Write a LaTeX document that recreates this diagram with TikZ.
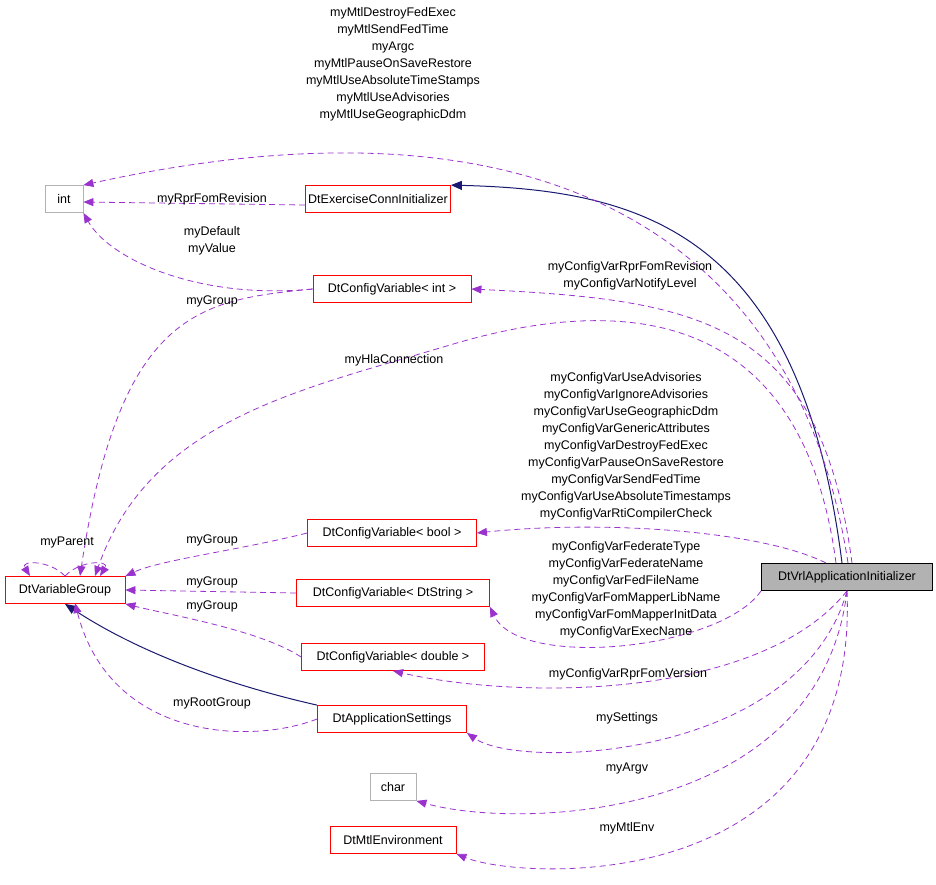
\documentclass[tikz,border=0pt]{standalone}
\usepackage{fontspec}
\setmainfont{Liberation Sans}
\usetikzlibrary{arrows.meta}
\definecolor{pur}{HTML}{9A32CD}
\definecolor{nav}{HTML}{191970}
\begin{document}
\begin{tikzpicture}[x=1pt,y=-1pt,
 font=\fontsize{12.5}{17}\selectfont,
 box/.style={draw=red,fill=white,inner sep=0pt,minimum height=27pt,line width=0.8pt},
 gbox/.style={draw=black!30,fill=white,inner sep=0pt,minimum height=27pt,line width=0.8pt},
 dep/.style={pur,dash pattern=on 6pt off 4pt,line width=0.8pt,-{Triangle[length=10pt,width=8pt]}},
 inh/.style={nav,line width=1pt,-{Triangle[length=11pt,width=9pt]}},
 lab/.style={align=center,inner sep=0pt}]
\useasboundingbox (0,0) rectangle (936,884);
\node[gbox,minimum width=38pt] (int) at (64,199) {int};
\node[box,minimum width=145pt] (exc) at (378,199) {DtExerciseConnInitializer};
\node[box,minimum width=158pt] (cvi) at (392,289) {DtConfigVariable< int >};
\node[box,minimum width=120pt] (vg) at (65,590) {DtVariableGroup};
\node[box,minimum width=169pt] (cvb) at (392,533) {DtConfigVariable< bool >};
\node[box,minimum width=193pt] (cvs) at (393,593) {DtConfigVariable< DtString >};
\node[box,minimum width=183pt] (cvd) at (393,657) {DtConfigVariable< double >};
\node[box,minimum width=149pt] (app) at (392,719) {DtApplicationSettings};
\node[gbox,minimum width=46pt] (chr) at (393,787) {char};
\node[box,minimum width=126pt] (mtl) at (393,840) {DtMtlEnvironment};
\node[draw=black,fill=black!30,inner sep=0pt,minimum height=27pt,minimum width=171pt,line width=0.8pt] (vrl) at (847,577) {DtVrlApplicationInitializer};
\coordinate (vt1) at (842,563);
\coordinate (vt2) at (836,563);
\coordinate (vt3) at (848,563);
\coordinate (vt4) at (826,563);
\coordinate (vt5) at (852,563);
% inheritance
\draw[inh] (vt1) .. controls (800,230) and (640,190) .. (exc.north east);
\draw[inh] (app.north west) .. controls (250,690) and (150,660) .. (vg.south);
% dependencies
\draw[dep] (vt3) .. controls (800,250) and (560,80) .. (int.north east);
\node[lab] (l1) at (393,64) {myMtlDestroyFedExec\\myMtlSendFedTime\\myArgc\\myMtlPauseOnSaveRestore\\myMtlUseAbsoluteTimeStamps\\myMtlUseAdvisories\\myMtlUseGeographicDdm};
\draw[dep] ([yshift=-6pt]exc.west) -- ([yshift=-3pt]int.east);
\node[lab] (l2) at (212,199) {myRprFomRevision};
\draw[dep] (cvi.west) .. controls (200,300) and (110,260) .. (int.south east);
\node[lab] (l3) at (212,241) {myDefault\\myValue};
\draw[dep] (cvi.west) .. controls (200,300) and (120,310) .. (80,576);
\node[lab] (l4) at (212,301) {myGroup};
\draw[dep] (vt2) .. controls (800,290) and (600,300) .. (450,345) .. controls (300,390) and (150,420) .. (95,576);
\node[lab] (l5) at (394,360) {myHlaConnection};
\draw[dep] (vt5) .. controls (820,320) and (700,300) .. (cvi.east);
\node[lab] (l6) at (630,276) {myConfigVarRprFomRevision\\myConfigVarNotifyLevel};
\draw[dep] (vt4) .. controls (760,530) and (600,520) .. (cvb.east);
\node[lab] (l7) at (626,446) {myConfigVarUseAdvisories\\myConfigVarIgnoreAdvisories\\myConfigVarUseGeographicDdm\\myConfigVarGenericAttributes\\myConfigVarDestroyFedExec\\myConfigVarPauseOnSaveRestore\\myConfigVarSendFedTime\\myConfigVarUseAbsoluteTimestamps\\myConfigVarRtiCompilerCheck};
\draw[dep] (cvb.west) .. controls (240,550) and (160,560) .. (vg.north east);
\node[lab] (l8) at (212,540) {myGroup};
\draw[dep] (cvs.west) -- (vg.east);
\node[lab] (l9) at (212,582) {myGroup};
\draw[dep] (cvd.west) .. controls (260,630) and (170,615) .. (vg.south east);
\node[lab] (l10) at (212,606) {myGroup};
\draw[dep] (app.west) .. controls (250,745) and (110,740) .. (75,603);
\node[lab] (l11) at (212,703) {myRootGroup};
\draw[dep] (vg.north) .. controls (80,560) and (110,560) .. (100,576);
\draw[dep] (vg.north) .. controls (50,560) and (20,560) .. (30,576);
\node[lab] (l12) at (67,542) {myParent};
\draw[dep] (vrl.south west) .. controls (720,650) and (520,670) .. (cvs.south east);
\node[lab] (l13) at (626,590) {myConfigVarFederateType\\myConfigVarFederateName\\myConfigVarFedFileName\\myConfigVarFomMapperLibName\\myConfigVarFomMapperInitData\\myConfigVarExecName};
\draw[dep] (vrl.south) .. controls (760,700) and (520,700) .. (cvd.south);
\node[lab] (l14) at (628,674) {myConfigVarRprFomVersion};
\draw[dep] (vrl.south) .. controls (800,760) and (520,770) .. (app.south east);
\node[lab] (l15) at (627,718) {mySettings};
\draw[dep] (vrl.south) .. controls (820,820) and (520,830) .. (chr.south east);
\node[lab] (l16) at (627,768) {myArgv};
\draw[dep] (vrl.south) .. controls (860,900) and (520,880) .. (mtl.south east);
\node[lab] (l17) at (627,828) {myMtlEnv};
\end{tikzpicture}
\end{document}
